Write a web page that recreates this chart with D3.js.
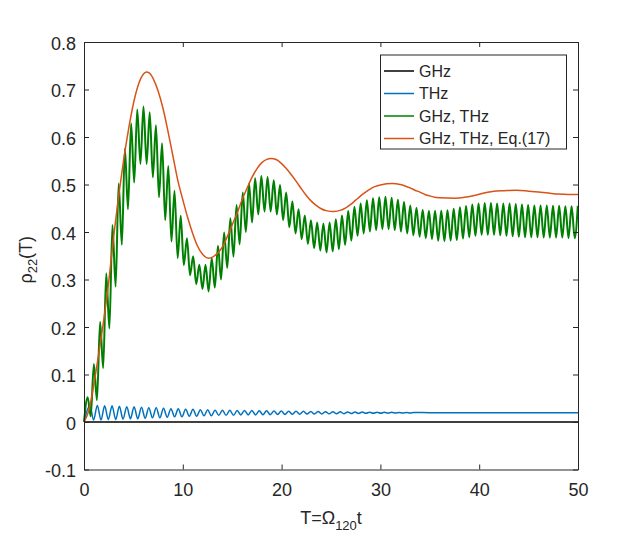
<!DOCTYPE html>
<html>
<head>
<meta charset="utf-8">
<script src="https://cdn.jsdelivr.net/npm/d3@7"></script>
<style>
  body { margin: 0; background: #fff; }
  text { font-family: "Liberation Sans", Arial, sans-serif; fill: #262626; }
</style>
</head>
<body>
<svg id="chart" width="639" height="538"></svg>
<script>
// axis ticks
var xTicks = [0, 10, 20, 30, 40, 50];
var xTickLabels = ["0", "10", "20", "30", "40", "50"];
var yTicks = [-0.1, 0, 0.1, 0.2, 0.3, 0.4, 0.5, 0.6, 0.7, 0.8];
var yTickLabels = ["-0.1", "0", "0.1", "0.2", "0.3", "0.4", "0.5", "0.6", "0.7", "0.8"];

var seriesNames = ["GHz", "THz", "GHz, THz", "GHz, THz, Eq.(17)"];
var seriesColors = ["#000000", "#0072BD", "#008000", "#D95319"];

// GHz only: stays at zero
var ghz = [[0, 0], [50, 0]];

// THz only: peaks and troughs
var thzPeaks = [[0.60,.035],[1.35,.035],[2.09,.034],[2.84,.034],[3.58,.033],[4.33,.032],[5.07,.032],[5.82,.031],
  [6.56,.030],[7.31,.030],[8.05,.029],[8.80,.028],[9.54,.028],[10.29,.027],[11.03,.027],[11.78,.026],[12.52,.026],
  [13.27,.025],[14.01,.025],[14.76,.025],[15.50,.024],[16.25,.024],[16.99,.024],[17.74,.0235],[18.48,.0235],
  [19.23,.023],[19.97,.023],[20.72,.0228],[21.46,.0226],[22.21,.0224],[22.95,.0222],[23.70,.022],[24.44,.0218],
  [25.19,.0216],[25.93,.0214],[26.68,.0212],[27.42,.021],[28.17,.0208],[28.91,.0206],[29.66,.0205],[30.40,.0204],
  [31.15,.0203],[31.89,.0202],[32.64,.0201],[33.38,.0200]];
var thzTroughs = [[0,0],[0.97,.004],[1.72,.004],[2.46,.005],[3.21,.005],[3.95,.006],[4.70,.007],[5.44,.007],[6.19,.008],
  [6.93,.009],[7.68,.009],[8.42,.010],[9.17,.011],[9.91,.011],[10.66,.012],[11.40,.012],[12.15,.013],[12.89,.013],
  [13.64,.014],[14.38,.014],[15.13,.014],[15.87,.015],[16.62,.015],[17.36,.015],[18.11,.0155],[18.85,.0155],
  [19.60,.016],[20.34,.016],[21.09,.0162],[21.83,.0164],[22.58,.0166],[23.32,.0168],[24.07,.017],[24.81,.0172],
  [25.56,.0174],[26.30,.0176],[27.05,.0178],[27.79,.018],[28.54,.0182],[29.28,.0184],[30.03,.0185],[30.77,.0186],
  [31.52,.0187],[32.26,.0188],[33.01,.0189]];
var thzTail = [[35, 0.0195], [42, 0.0195], [50, 0.0195]];

// GHz + THz: peaks and troughs of the fast oscillation
var bothPeaks = [[0.37,0.052],[1.00,0.122],[1.63,0.211],[2.25,0.313],[2.88,0.415],[3.51,0.502],[4.14,0.576],
  [4.77,0.629],[5.39,0.658],[6.02,0.664],[6.65,0.652],[7.28,0.625],[7.90,0.587],[8.53,0.539],[9.16,0.487],
  [9.79,0.434],[10.42,0.387],[11.05,0.349],[11.67,0.331],[12.30,0.331],[12.93,0.345],[13.56,0.371],[14.18,0.399],
  [14.81,0.429],[15.44,0.457],[16.07,0.483],[16.70,0.502],[17.32,0.513],[17.95,0.518],[18.58,0.516],[19.21,0.509],
  [19.84,0.499],[20.46,0.483],[21.09,0.464],[21.72,0.448],[22.35,0.435],[22.97,0.425],[23.60,0.420],[24.23,0.418],
  [24.86,0.420],[25.49,0.427],[26.11,0.435],[26.74,0.444],[27.37,0.453],[28.00,0.460],[28.63,0.467],[29.25,0.471],
  [29.88,0.473],[30.51,0.474],[31.14,0.472],[31.77,0.468],[32.39,0.463],[33.02,0.456],[33.65,0.451],[34.28,0.447],
  [34.91,0.445],[35.53,0.445],[36.16,0.445],[36.79,0.446],[37.42,0.449],[38.05,0.452],[38.67,0.455],[39.30,0.458],
  [39.93,0.460],[40.56,0.461],[41.19,0.461],[41.81,0.460],[42.44,0.460],[43.07,0.460],[43.70,0.459],[44.33,0.458],
  [44.95,0.457],[45.58,0.456],[46.21,0.456],[46.84,0.456],[47.47,0.455],[48.09,0.455],[48.72,0.454],[49.35,0.454],
  [49.98,0.455]];
var bothTroughs = [[0,0],[0.68,0.012],[1.31,0.046],[1.94,0.113],[2.57,0.197],[3.20,0.285],[3.83,0.373],[4.45,0.448],
  [5.08,0.504],[5.71,0.543],[6.34,0.543],[6.97,0.515],[7.59,0.473],[8.22,0.425],[8.85,0.380],[9.48,0.345],
  [10.10,0.330],[10.73,0.309],[11.36,0.290],[11.99,0.280],[12.61,0.275],[13.24,0.283],[13.87,0.300],[14.50,0.324],
  [15.13,0.348],[15.75,0.374],[16.38,0.400],[17.01,0.420],[17.64,0.437],[18.27,0.443],[18.89,0.443],[19.52,0.437],
  [20.15,0.425],[20.78,0.410],[21.41,0.397],[22.03,0.385],[22.66,0.375],[23.29,0.366],[23.92,0.361],[24.55,0.357],
  [25.17,0.359],[25.80,0.364],[26.43,0.373],[27.06,0.382],[27.69,0.392],[28.31,0.397],[28.94,0.401],[29.57,0.404],
  [30.20,0.406],[30.83,0.406],[31.45,0.404],[32.08,0.401],[32.71,0.397],[33.34,0.393],[33.97,0.390],[34.59,0.387],
  [35.22,0.385],[35.85,0.382],[36.48,0.381],[37.11,0.382],[37.73,0.383],[38.36,0.386],[38.99,0.389],[39.62,0.392],
  [40.25,0.394],[40.87,0.394],[41.50,0.394],[42.13,0.393],[42.76,0.392],[43.39,0.391],[44.01,0.390],[44.64,0.389],
  [45.27,0.389],[45.90,0.389],[46.53,0.388],[47.15,0.388],[47.78,0.388],[48.41,0.388],[49.04,0.387],[49.67,0.387]];

// Eq.(17): smooth curve
var eq17 = [[0,0],[0.5,0.025],[1.0,0.08],[1.5,0.145],[2.0,0.215],[2.5,0.295],[3.0,0.39],[3.5,0.475],[4.0,0.55],
  [4.5,0.615],[5.0,0.67],[5.5,0.71],[6.0,0.732],[6.3,0.737],[6.6,0.735],[7.0,0.723],[7.5,0.697],[8.0,0.66],
  [8.5,0.612],[9.0,0.56],[9.5,0.508],[10.0,0.468],[10.5,0.43],[11.0,0.397],[11.5,0.37],[12.0,0.353],[12.6,0.345],
  [13.0,0.347],[13.5,0.355],[14.0,0.368],[14.5,0.39],[15.0,0.415],[15.5,0.44],[16.0,0.468],[16.5,0.492],
  [17.0,0.515],[17.5,0.533],[18.0,0.546],[18.5,0.553],[18.9,0.555],[19.5,0.552],[20.0,0.544],[20.5,0.533],
  [21.0,0.52],[21.5,0.506],[22.0,0.491],[22.5,0.477],[23.0,0.465],[23.5,0.456],[24.0,0.449],[24.5,0.445],
  [25.3,0.443],[26.0,0.446],[26.5,0.451],[27.0,0.458],[27.5,0.467],[28.0,0.476],[28.5,0.484],[29.0,0.491],
  [29.5,0.496],[30.0,0.499],[31.2,0.502],[32.0,0.5],[32.5,0.497],[33.0,0.493],[33.5,0.488],[34.0,0.484],
  [34.5,0.479],[35.0,0.476],[35.5,0.473],[36.0,0.472],[37.6,0.471],[38.5,0.473],[39.5,0.477],[40.5,0.482],
  [41.5,0.486],[42.5,0.487],[43.8,0.488],[45.0,0.486],[46.0,0.484],[47.0,0.482],[48.0,0.48],[49.0,0.479],[50.0,0.479]];

(function () {
  function byTime(a, b) { return a[0] - b[0]; }
  var thz = thzPeaks.concat(thzTroughs, thzTail).sort(byTime);
  var both = bothPeaks.concat(bothTroughs).sort(byTime);

  var svg = d3.select("#chart");
  var pLeft = 84, pRight = 578, pTop = 42, pBottom = 469.5;

  var x = d3.scaleLinear().domain([0, 50]).range([pLeft, pRight]);
  var y = d3.scaleLinear().domain([-0.1, 0.8]).range([pBottom, pTop]);

  var line = d3.line()
    .x(function (d) { return x(d[0]); })
    .y(function (d) { return y(d[1]); })
    .curve(d3.curveMonotoneX);

  var series = [ghz, thz, both, eq17];
  var widths = [1.5, 1.5, 2, 1.5];
  series.forEach(function (s, i) {
    svg.append("path")
      .attr("d", line(s))
      .attr("fill", "none")
      .attr("stroke", seriesColors[i])
      .attr("stroke-width", widths[i])
      .attr("stroke-linejoin", "round");
  });

  // axes, MATLAB box style with inward ticks
  function styleAxis(g) {
    g.select(".domain").attr("stroke", "#262626").attr("stroke-width", 1);
    g.selectAll(".tick line").attr("stroke", "#262626").attr("stroke-width", 1);
    g.selectAll("text").attr("font-size", 18).attr("fill", "#262626")
      .attr("font-family", "Liberation Sans, Arial, sans-serif");
  }

  svg.append("g").attr("transform", "translate(0," + pBottom + ")")
    .call(d3.axisBottom(x).tickValues(xTicks).tickSizeInner(-5).tickSizeOuter(0).tickPadding(14)
      .tickFormat(function (d, i) { return xTickLabels[i]; }))
    .call(styleAxis);
  svg.append("g").attr("transform", "translate(0," + pTop + ")")
    .call(d3.axisTop(x).tickValues(xTicks).tickSizeInner(-5).tickSizeOuter(0).tickFormat(""))
    .call(styleAxis);
  svg.append("g").attr("transform", "translate(" + pLeft + ",0)")
    .call(d3.axisLeft(y).tickValues(yTicks).tickSizeInner(-5).tickSizeOuter(0).tickPadding(8)
      .tickFormat(function (d, i) { return yTickLabels[i]; }))
    .call(styleAxis)
    .selectAll("text").attr("dy", "0.4em");
  svg.append("g").attr("transform", "translate(" + pRight + ",0)")
    .call(d3.axisRight(y).tickValues(yTicks).tickSizeInner(-5).tickSizeOuter(0).tickFormat(""))
    .call(styleAxis);

  // axis labels
  var xl = svg.append("text").attr("x", (pLeft + pRight) / 2).attr("y", 524)
    .attr("text-anchor", "middle").attr("font-size", 18);
  xl.append("tspan").text("T=Ω");
  xl.append("tspan").attr("font-size", 13).attr("dy", 6).text("120");
  xl.append("tspan").attr("dy", -6).text("t");

  var yl = svg.append("text")
    .attr("transform", "translate(32," + ((pTop + pBottom) / 2 + 4) + ") rotate(-90)")
    .attr("text-anchor", "middle").attr("font-size", 18);
  yl.append("tspan").text("ρ");
  yl.append("tspan").attr("font-size", 13).attr("dy", 5).text("22");
  yl.append("tspan").attr("dy", -5).text("(T)");

  // legend
  var lg = svg.append("g");
  lg.append("rect").attr("x", 380.5).attr("y", 55).attr("width", 186).attr("height", 94)
    .attr("fill", "#fff").attr("stroke", "#262626").attr("stroke-width", 1);
  seriesNames.forEach(function (name, i) {
    var yy = 71 + i * 22.5;
    lg.append("line").attr("x1", 384).attr("x2", 414).attr("y1", yy).attr("y2", yy)
      .attr("stroke", seriesColors[i]).attr("stroke-width", 1.5);
    lg.append("text").attr("x", 419).attr("y", yy).attr("dy", "0.36em")
      .attr("font-size", 16).text(name);
  });
})();
</script>
</body>
</html>
